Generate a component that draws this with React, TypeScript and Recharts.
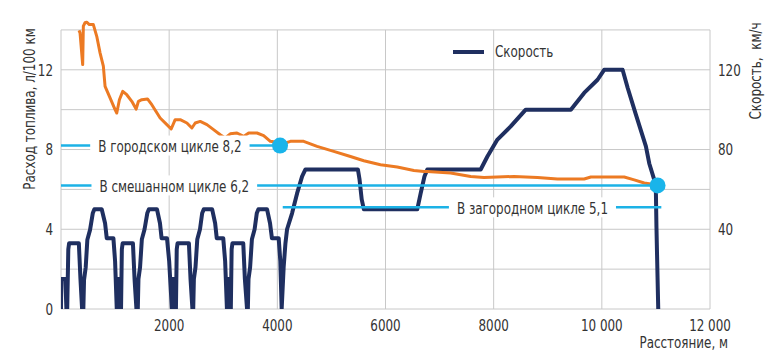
import React, { useLayoutEffect, useRef, useState } from 'react';
import { LineChart, Line, XAxis, YAxis, ReferenceLine, ReferenceDot, Legend } from 'recharts';

if (typeof document !== 'undefined') {
  document.body.style.margin = '0';
}

// ---- data ----
const speedDist = [
  0, 5, 80, 100, 115, 135, 150, 330, 360, 390, 413, 426, 457, 487, 537, 587, 617, 753, 815, 846, 969, 1000, 1031,
  1035, 1085, 1100, 1110, 1125, 1140, 1330, 1360, 1395, 1420, 1432, 1462, 1495, 1545, 1595, 1625, 1775, 1830, 1860, 1960, 2000, 2050,
  2055, 2105, 2115, 2125, 2140, 2155, 2365, 2395, 2430, 2445, 2457, 2487, 2520, 2570, 2610, 2640, 2795, 2850, 2880, 3000, 3035, 3068,
  3073, 3120, 3130, 3140, 3155, 3170, 3370, 3400, 3440, 3455, 3467, 3497, 3530, 3580, 3620, 3650, 3810, 3865, 3900, 4025, 4055, 4080,
  4117, 4150, 4180, 4272, 4365, 4458, 4520, 5490, 5520, 5560, 5600, 6587, 6650, 6720, 6773, 7760, 7884, 8069, 8315, 8593, 9427,
  9673, 9921, 10043, 10384, 10477, 10630, 10815, 10877, 10970, 11000, 11010, 11030, 11043,
];
const speedKmh = [
  0, 15, 15, 0, 0, 30, 33, 33, 15, 0, 0, 14.6, 21, 34.7, 39.7, 48, 50, 50, 43, 35.5, 35.5, 24, 0,
  15, 15, 0, 0, 30, 33, 33, 15, 0, 0, 15, 21, 35, 40, 48, 50, 50, 43, 35.5, 35.5, 24, 0,
  15, 15, 0, 0, 30, 33, 33, 15, 0, 0, 15, 21, 35, 40, 48, 50, 50, 43, 35.5, 35.5, 24, 0,
  15, 15, 0, 0, 30, 33, 33, 15, 0, 0, 15, 21, 35, 40, 48, 50, 50, 43, 35.5, 35.5, 24, 0,
  21, 33, 40, 48, 58, 66.5, 70, 70, 65, 55, 50, 50, 58, 66.5, 70, 70, 76.5, 85, 91.6, 100, 100,
  108.4, 115, 120, 120, 111, 97.5, 81.6, 73, 64.8, 58, 41, 16, 0,
];
const fuelDist = [
  333, 352, 401, 413, 444, 475, 524, 598, 661, 722, 783, 815, 907, 1000, 1031, 1080, 1142, 1216, 1309, 1389, 1432,
  1494, 1599, 1679, 1833, 1957, 2037, 2111, 2204, 2328, 2420, 2482, 2574, 2698, 2821, 2945, 3037, 3130, 3254, 3376,
  3470, 3624, 3747, 3871, 3963, 4050, 4241, 4487, 4735, 5043, 5352, 5599, 5908, 6217, 6525, 6710, 6773, 7204, 7575,
  7821, 8377, 8810, 9180, 9673, 9797, 10414, 10599, 10784, 10877, 11000,
];
const fuelL100 = [
  13.98, 13.85, 12.26, 14.19, 14.36, 14.39, 14.27, 14.27, 13.68, 12.85, 12.18, 11.17, 10.59, 10.0, 9.83, 10.5, 10.92, 10.75, 10.42, 10.03, 10.42,
  10.5, 10.54, 10.25, 9.58, 9.25, 9.03, 9.5, 9.5, 9.33, 9.08, 9.33, 9.41, 9.25, 9.0, 8.74, 8.58, 8.79, 8.83, 8.66,
  8.83, 8.83, 8.7, 8.41, 8.38, 8.24, 8.41, 8.41, 8.16, 7.91, 7.65, 7.44, 7.24, 7.12, 6.95, 6.9, 6.9, 6.82, 6.65,
  6.6, 6.65, 6.6, 6.52, 6.52, 6.62, 6.62, 6.48, 6.32, 6.28, 6.2,
];

const xTicks = [2000, 4000, 6000, 8000, 10000, 12000];
const xGrid = [0, 2000, 4000, 6000, 8000, 10000, 12000];
const yGrid = [0, 2, 4, 6, 8, 10, 12, 14];
const leftTicks = [0, 4, 8, 12];
const rightTicks = [40, 80, 120];

const cycleLabels = ['В городском цикле 8,2', 'В смешанном цикле 6,2', 'В загородном цикле 5,1'];
const cycleValues = [8.2, 6.2, 5.1];
const cycleFrom = [0, 0, 4100];
const cycleTo = [4050, 11030, 11100];
const cycleLabelAt = [2013, 2095, 8717];

const markerDist = [4050, 11030];
const markerValue = [8.2, 6.2];

const speedName = 'Скорость';
const xTitle = 'Расстояние, м';
const leftTitle = 'Расход топлива, л/100 км';
const rightTitle = 'Скорость,\u00A0 км/ч';

const speedData = speedDist.map((d, i) => ({ d, v: speedKmh[i] }));
const fuelData = fuelDist.map((d, i) => ({ d, v: fuelL100[i] }));

// ---- styles ----
const FONT = "'DejaVu Sans Condensed', 'Liberation Sans Narrow', sans-serif";
const SX = 0.83; // horizontal condensing to mimic the narrow typeface
const FS = 16;
const TEXT = '#333333';
const GRID = '#c8c8c8';
const ORANGE = '#ec7a23';
const NAVY = '#1f2f60';
const CYAN = '#1cb2e6';
const DOT = '#19b4ea';

const fmtX = (v: number) => (v >= 10000 ? `${Math.floor(v / 1000)} ${String(v % 1000).padStart(3, '0')}` : String(v));

function CondText(props: any) {
  const { x, y, anchor = 'start', rotate = 0, children, textRef, baseline } = props;
  const tr = `translate(${x} ${y})${rotate ? ` rotate(${rotate})` : ''} scale(${SX} 1)`;
  return (
    <text
      ref={textRef}
      transform={tr}
      x={0}
      y={0}
      textAnchor={anchor}
      dominantBaseline={baseline}
      fontFamily={FONT}
      fontSize={FS}
      fill={TEXT}
    >
      {children}
    </text>
  );
}

function CycleTag(props: any) {
  const { cx, cy, text } = props;
  const ref = useRef<SVGTextElement>(null);
  const [w, setW] = useState(140);
  useLayoutEffect(() => {
    if (ref.current) {
      const bw = ref.current.getBBox().width * SX;
      if (Math.abs(bw - w) > 0.5) setW(bw);
    }
  });
  const pad = 8;
  return (
    <g>
      <rect x={cx - w / 2 - pad} y={cy - 10} width={w + pad * 2} height={20} fill="#ffffff" />
      <CondText textRef={ref} x={cx} y={cy + 6.5} anchor="middle">
        {text}
      </CondText>
    </g>
  );
}

const XTick = (p: any) => (
  <CondText x={p.x} y={p.y + 11} anchor="middle">
    {fmtX(p.payload.value)}
  </CondText>
);
const LeftTick = (p: any) => (
  <CondText x={p.x} y={p.y + 5.8} anchor="end">
    {p.payload.value}
  </CondText>
);
const RightTick = (p: any) => (
  <CondText x={p.x} y={p.y + 5.8} anchor="start">
    {p.payload.value}
  </CondText>
);

const LegendBox = () => (
  <div style={{ display: 'flex', alignItems: 'center', fontFamily: FONT, fontSize: FS, color: TEXT, lineHeight: '18px' }}>
    <svg width={31} height={6} style={{ marginRight: 11 }}>
      <line x1={0} y1={3} x2={31} y2={3} stroke={NAVY} strokeWidth={4} />
    </svg>
    <span style={{ display: 'inline-block', transform: `scaleX(${SX})`, transformOrigin: 'left center' }}>{speedName}</span>
  </div>
);

export default function App() {
  return (
    <div style={{ width: 781, height: 364, background: '#fff', position: 'relative' }}>
      <LineChart width={781} height={364} margin={{ top: 10, right: 0, bottom: 0, left: 0 }}>
        <XAxis
          type="number"
          dataKey="d"
          domain={[0, 12000]}
          ticks={xTicks}
          interval={0}
          allowDataOverflow
          axisLine={false}
          tickLine={false}
          height={55}
          tickMargin={5}
          tick={XTick}
          label={{
            content: (p: any) => {
              const vb = p.viewBox || { x: 61, y: 309, width: 649, height: 55 };
              return (
                <CondText x={vb.x + vb.width + 18} y={vb.y + 39} anchor="end">
                  {xTitle}
                </CondText>
              );
            },
          }}
        />
        <YAxis
          yAxisId="left"
          type="number"
          domain={[0, 15]}
          ticks={leftTicks}
          interval={0}
          allowDataOverflow
          axisLine={false}
          tickLine={false}
          width={61}
          tick={LeftTick}
          label={{
            content: (p: any) => {
              const vb = p.viewBox || { x: 0, y: 10, width: 61, height: 299 };
              return (
                <CondText x={vb.x + 29} y={vb.y + 99} rotate={-90} anchor="middle" baseline="central">
                  {leftTitle}
                </CondText>
              );
            },
          }}
        />
        <YAxis
          yAxisId="right"
          orientation="right"
          type="number"
          domain={[0, 150]}
          ticks={rightTicks}
          interval={0}
          allowDataOverflow
          axisLine={false}
          tickLine={false}
          width={71}
          tick={RightTick}
          label={{
            content: (p: any) => {
              const vb = p.viewBox || { x: 710, y: 10, width: 71, height: 299 };
              return (
                <CondText x={vb.x + 45} y={vb.y + 61} rotate={-90} anchor="middle" baseline="central">
                  {rightTitle}
                </CondText>
              );
            },
          }}
        />

        {yGrid.map((v) => (
          <ReferenceLine key={`hg${v}`} yAxisId="left" y={v} stroke={GRID} strokeWidth={1} />
        ))}
        {xGrid.map((v) => (
          <ReferenceLine
            key={`vg${v}`}
            yAxisId="left"
            segment={[
              { x: v, y: 0 },
              { x: v, y: 14 },
            ]}
            stroke={GRID}
            strokeWidth={1}
          />
        ))}

        <Line
          yAxisId="right"
          data={speedData}
          dataKey="v"
          name={speedName}
          type="linear"
          stroke={NAVY}
          strokeWidth={4}
          strokeLinejoin="round"
          dot={false}
          isAnimationActive={false}
        />
        <Line
          yAxisId="left"
          data={fuelData}
          dataKey="v"
          name="fuel"
          type="linear"
          stroke={ORANGE}
          strokeWidth={3}
          strokeLinejoin="round"
          dot={false}
          legendType="none"
          isAnimationActive={false}
        />

        {cycleValues.map((v, i) => (
          <ReferenceLine
            key={`cl${i}`}
            yAxisId="left"
            segment={[
              { x: cycleFrom[i], y: v },
              { x: cycleTo[i], y: v },
            ]}
            stroke={CYAN}
            strokeWidth={2.5}
          />
        ))}
        {cycleValues.map((v, i) => (
          <ReferenceDot
            key={`ct${i}`}
            yAxisId="left"
            x={cycleLabelAt[i]}
            y={v}
            r={1}
            shape={(p: any) => <CycleTag cx={p.cx} cy={p.cy} text={cycleLabels[i]} />}
          />
        ))}
        {markerValue.map((v, i) => (
          <ReferenceDot key={`mk${i}`} yAxisId="left" x={markerDist[i]} y={v} r={8} fill={DOT} stroke="none" />
        ))}

        <Legend
          layout="vertical"
          align="center"
          verticalAlign="middle"
          content={() => <LegendBox />}
          wrapperStyle={{ position: 'absolute', left: 453, top: 43, width: 140, height: 18 }}
        />
      </LineChart>
    </div>
  );
}
